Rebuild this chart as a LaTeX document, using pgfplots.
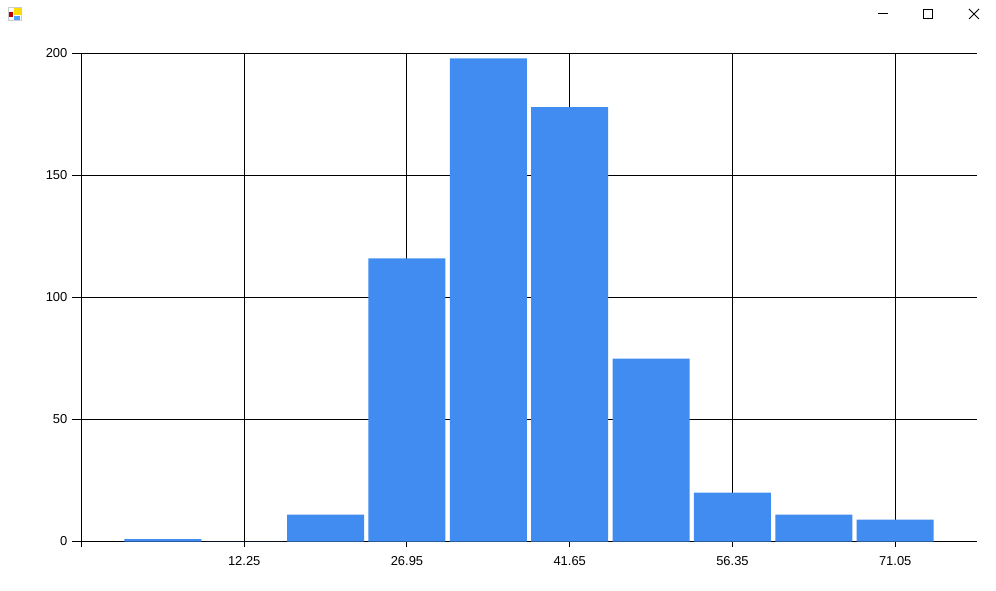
\documentclass[border=0pt]{standalone}
\usepackage{fontspec}
\setmainfont{Liberation Sans}
\usepackage{pgfplots}
\pgfplotsset{compat=1.18}
\definecolor{barblue}{HTML}{418CF0}
\begin{document}
\begin{tikzpicture}[x=0.75pt,y=0.75pt]
\path[use as bounding box] (0,0) rectangle (996,591);
\fill[white] (0,0) rectangle (996,591);
% window chrome (y measured up from the bottom edge: 591 - pixel row)
\fill[gray!40] (8,584) rectangle (22,570);
\fill[white] (9,583) rectangle (21,571);
\fill[yellow!80!orange] (14,583) rectangle (21,576);
\fill[red!75!black] (9,579) rectangle (13,574);
\fill[blue!50!cyan!70] (14,575) rectangle (20,571);
\draw[line width=0.75pt] (878,577.5) -- (888,577.5);
\draw[line width=0.75pt] (923.5,581.5) rectangle (932.5,572.5);
\draw[line width=0.6pt] (969,582) -- (979,572) (979,582) -- (969,572);
\begin{axis}[
  at={(61.1pt,37.1pt)}, anchor=south west,
  scale only axis,
  width=672pt, height=366pt,
  xmin=-2.45, xmax=78.48,
  ymin=0, ymax=200,
  axis x line*=bottom, axis y line*=left,
  axis line style={-, line width=0.75pt, black},
  xtick={-2.45,12.25,26.95,41.65,56.35,71.05},
  xticklabels={,12.25,26.95,41.65,56.35,71.05},
  ytick={0,50,100,150,200},
  grid=major,
  grid style={line width=0.75pt, black},
  tick align=outside,
  xtick style={line width=0.75pt, black, /pgfplots/major tick length=4.2pt},
  ytick style={line width=0.75pt, black, /pgfplots/major tick length=7.2pt},
  tick label style={font=\fontsize{9.7pt}{11pt}\selectfont, text=black},
  /pgf/number format/assume math mode=true,
  xticklabel style={yshift=-3.4pt},
  yticklabel style={xshift=-2.8pt},
  ybar, bar width=57.75pt, bar shift=0pt,
  clip=false,
]
\addplot[fill=barblue, draw=none] coordinates {
 (4.9,1) (12.25,0) (19.6,11) (26.95,116) (34.3,198)
 (41.65,178) (49,75) (56.35,20) (63.7,11) (71.05,9)};
\end{axis}
\end{tikzpicture}
\end{document}
